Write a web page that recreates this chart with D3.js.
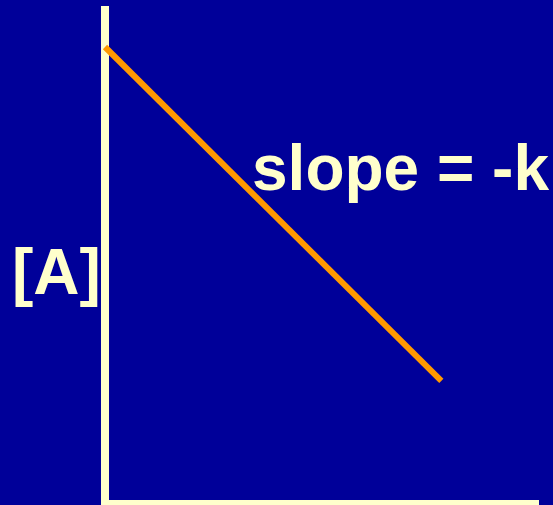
<!DOCTYPE html>
<html>
<head>
<meta charset="utf-8">
<script src="https://cdn.jsdelivr.net/npm/d3@7"></script>
<style>
  html, body { margin: 0; padding: 0; background: #000099; }
  svg { display: block; }
</style>
</head>
<body>
<script>
// Zero-order kinetics: concentration falls linearly with time
const times = [0, 7.75];
const concentrations = [9.17, 2.41];
const axisLabelY = "[A]";
const slopeLabel = "slope = -k";

const W = 553, H = 505;
const bg = "#000099", cream = "#FFFFCC", orange = "#FF9900";

const svg = d3.select("body").append("svg")
  .attr("width", W).attr("height", H);

svg.append("rect").attr("width", W).attr("height", H).attr("fill", bg);

const x = d3.scaleLinear().domain([0, 10]).range([105, 539]);
const y = d3.scaleLinear().domain([0, 10]).range([500, 6]);

// axes
svg.append("line")
  .attr("x1", x(0)).attr("x2", x(0))
  .attr("y1", y(10)).attr("y2", H)
  .attr("stroke", cream).attr("stroke-width", 8);

svg.append("line")
  .attr("x1", x(0)).attr("x2", x(10))
  .attr("y1", 503).attr("y2", 503)
  .attr("stroke", cream).attr("stroke-width", 6);

// concentration line
const pts = times.map((t, i) => [t, concentrations[i]]);
svg.append("path")
  .datum(pts)
  .attr("d", d3.line().x(d => x(d[0])).y(d => y(d[1])))
  .attr("fill", "none")
  .attr("stroke", orange)
  .attr("stroke-width", 6);

// labels
svg.append("text")
  .attr("x", 12).attr("y", 294)
  .attr("font-family", "Liberation Sans, Arial, sans-serif")
  .attr("font-weight", "bold")
  .attr("font-size", 64)
  .attr("fill", cream)
  .text(axisLabelY);

svg.append("text")
  .attr("x", 252).attr("y", 190)
  .attr("font-family", "Liberation Sans, Arial, sans-serif")
  .attr("font-weight", "bold")
  .attr("font-size", 64)
  .attr("fill", cream)
  .text(slopeLabel);
</script>
</body>
</html>
